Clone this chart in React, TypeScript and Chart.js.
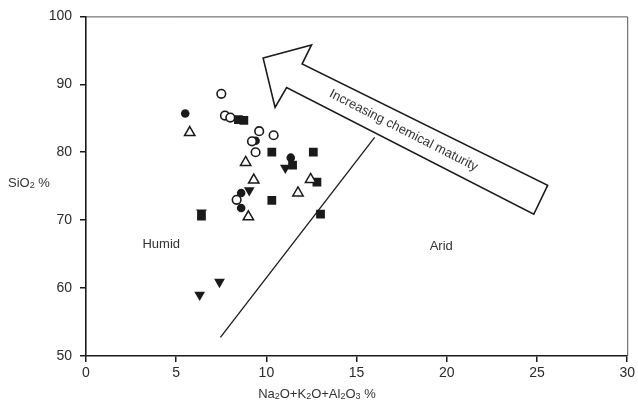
import { useEffect, useRef } from "react";
import { Chart, registerables } from "chart.js";

Chart.register(...registerables);

// Axis ticks
const xTicks = [0, 5, 10, 15, 20, 25, 30];
const yTicks = [50, 60, 70, 80, 90, 100];

// Sample groups (Na2O+K2O+Al2O3 %, SiO2 %)
const filledCircles = [
  { x: 5.5, y: 85.7 },
  { x: 9.4, y: 81.7 },
  { x: 11.35, y: 79.2 },
  { x: 8.6, y: 74.0 },
  { x: 8.6, y: 71.8 },
];
const openCircles = [
  { x: 7.5, y: 88.6 },
  { x: 7.7, y: 85.4 },
  { x: 8.0, y: 85.1 },
  { x: 9.6, y: 83.1 },
  { x: 9.2, y: 81.6 },
  { x: 9.4, y: 80.0 },
  { x: 10.4, y: 82.5 },
  { x: 8.35, y: 73.0 },
];
const filledSquares = [
  { x: 8.45, y: 84.8 },
  { x: 8.75, y: 84.7 },
  { x: 10.3, y: 80.0 },
  { x: 12.6, y: 80.0 },
  { x: 11.45, y: 78.1 },
  { x: 12.8, y: 75.6 },
  { x: 10.3, y: 72.9 },
  { x: 13.0, y: 70.9 },
  { x: 6.4, y: 70.6 },
];
const downTriangles = [
  { x: 11.05, y: 77.7 },
  { x: 9.05, y: 74.4 },
  { x: 7.4, y: 60.9 },
  { x: 6.3, y: 59.0 },
  { x: 6.4, y: 71.1 },
];
const openTriangles = [
  { x: 5.75, y: 82.9 },
  { x: 8.85, y: 78.5 },
  { x: 9.3, y: 75.9 },
  { x: 9.0, y: 70.5 },
  { x: 12.45, y: 76.0 },
  { x: 11.75, y: 74.0 },
];

// Humid / arid divide
const boundaryLine = [
  { x: 7.45, y: 52.75 },
  { x: 16.0, y: 82.2 },
];

// Outline of the maturity arrow, in data units
const arrowOutline = [
  { x: 9.82, y: 93.86 },
  { x: 12.5, y: 95.8 },
  { x: 11.98, y: 93.0 },
  { x: 25.59, y: 75.12 },
  { x: 24.82, y: 70.87 },
  { x: 11.12, y: 89.52 },
  { x: 10.48, y: 86.59 },
];
const arrowText = "Increasing chemical maturity";
const arrowTextAt = { x: 17.6, y: 83.2 };
const arrowTextAngle = 27;

const regionLabels = [
  { text: "Humid", x: 4.17, y: 66.5 },
  { text: "Arid", x: 19.69, y: 66.1 },
];

// Axis titles as [text, subscript?] runs
const xTitle: [string, boolean][] = [
  ["Na", false], ["2", true], ["O+K", false], ["2", true], ["O+Al", false],
  ["2", true], ["O", false], ["3", true], [" %", false],
];
const yTitle: [string, boolean][] = [["SiO", false], ["2", true], [" %", false]];

const FONT = "'Liberation Sans', Arial, sans-serif";
const INK = "#1a1a1a";

function drawRuns(
  ctx: CanvasRenderingContext2D,
  runs: [string, boolean][],
  x: number,
  y: number,
  align: "left" | "center"
) {
  const big = `13px ${FONT}`;
  const small = `9px ${FONT}`;
  let total = 0;
  for (const [t, sub] of runs) {
    ctx.font = sub ? small : big;
    total += ctx.measureText(t).width;
  }
  let cx = align === "center" ? x - total / 2 : x;
  ctx.textAlign = "left";
  ctx.textBaseline = "middle";
  for (const [t, sub] of runs) {
    ctx.font = sub ? small : big;
    ctx.fillText(t, cx, sub ? y + 3 : y);
    cx += ctx.measureText(t).width;
  }
}

const decorations = {
  id: "decorations",
  afterDraw(chart: any) {
    const { ctx, chartArea, scales } = chart;
    const xs = scales.x;
    const ys = scales.y;
    ctx.save();

    // thin frame on top and right
    ctx.strokeStyle = "#555";
    ctx.lineWidth = 1;
    ctx.beginPath();
    ctx.moveTo(chartArea.left, chartArea.top + 0.5);
    ctx.lineTo(chartArea.right + 0.5, chartArea.top + 0.5);
    ctx.lineTo(chartArea.right + 0.5, chartArea.bottom);
    ctx.stroke();

    // maturity arrow
    ctx.strokeStyle = INK;
    ctx.lineWidth = 1.6;
    ctx.lineJoin = "miter";
    ctx.beginPath();
    arrowOutline.forEach((p, i) => {
      const px = xs.getPixelForValue(p.x);
      const py = ys.getPixelForValue(p.y);
      if (i === 0) ctx.moveTo(px, py);
      else ctx.lineTo(px, py);
    });
    ctx.closePath();
    ctx.stroke();

    ctx.fillStyle = "#333";
    ctx.font = `13px ${FONT}`;
    ctx.textAlign = "center";
    ctx.textBaseline = "middle";
    ctx.save();
    ctx.translate(xs.getPixelForValue(arrowTextAt.x), ys.getPixelForValue(arrowTextAt.y));
    ctx.rotate((arrowTextAngle * Math.PI) / 180);
    ctx.fillText(arrowText, 0, 0);
    ctx.restore();

    for (const l of regionLabels) {
      ctx.fillText(l.text, xs.getPixelForValue(l.x), ys.getPixelForValue(l.y));
    }

    // axis titles
    drawRuns(ctx, xTitle, xs.getPixelForValue(12.8), 394, "center");
    drawRuns(ctx, yTitle, 8, 183, "left");
    ctx.restore();
  },
};

export default function App() {
  const ref = useRef<HTMLCanvasElement | null>(null);

  useEffect(() => {
    document.body.style.margin = "0";
    const canvas = ref.current;
    if (!canvas) return;

    const chart = new Chart(canvas, {
      type: "scatter",
      data: {
        datasets: [
          {
            type: "line",
            data: boundaryLine,
            borderColor: INK,
            borderWidth: 1.3,
            pointRadius: 0,
            fill: false,
          } as any,
          {
            data: openCircles,
            pointStyle: "circle",
            pointRadius: 4.3,
            backgroundColor: "#fff",
            borderColor: INK,
            borderWidth: 1.6,
          },
          {
            data: openTriangles,
            pointStyle: "triangle",
            pointRadius: 6,
            backgroundColor: "#fff",
            borderColor: INK,
            borderWidth: 1.5,
          },
          {
            data: filledSquares,
            pointStyle: "rect",
            pointRadius: 6.2,
            backgroundColor: INK,
            borderColor: INK,
            borderWidth: 0,
          },
          {
            data: downTriangles,
            pointStyle: "triangle",
            rotation: 180,
            pointRadius: 6.2,
            backgroundColor: INK,
            borderColor: INK,
            borderWidth: 0,
          },
          {
            data: filledCircles,
            pointStyle: "circle",
            pointRadius: 4.3,
            backgroundColor: INK,
            borderColor: INK,
            borderWidth: 0,
          },
        ],
      },
      options: {
        responsive: false,
        animation: false,
        events: [],
        layout: { padding: { top: 16, right: 8, left: 0, bottom: 0 } },
        plugins: {
          legend: { display: false },
          tooltip: { enabled: false },
        },
        scales: {
          x: {
            type: "linear",
            min: xTicks[0],
            max: xTicks[xTicks.length - 1],
            afterBuildTicks: (s: any) => {
              s.ticks = xTicks.map((v) => ({ value: v }));
            },
            afterFit: (s: any) => {
              s.height = 54;
            },
            grid: {
              drawOnChartArea: false,
              drawTicks: true,
              tickLength: 6,
              color: INK,
              lineWidth: 1.5,
            },
            border: { display: true, color: INK, width: 1.6 },
            ticks: {
              color: "#2a2a2a",
              font: { family: FONT, size: 14 },
              padding: 3,
              maxRotation: 0,
            },
          },
          y: {
            type: "linear",
            min: yTicks[0],
            max: yTicks[yTicks.length - 1],
            afterBuildTicks: (s: any) => {
              s.ticks = yTicks.map((v) => ({ value: v }));
            },
            afterFit: (s: any) => {
              s.width = 86;
            },
            grid: {
              drawOnChartArea: false,
              drawTicks: true,
              tickLength: 6,
              color: INK,
              lineWidth: 1.5,
            },
            border: { display: true, color: INK, width: 1.6 },
            ticks: {
              color: "#2a2a2a",
              font: { family: FONT, size: 14 },
              padding: 8,
            },
          },
        },
      },
      plugins: [decorations],
    });

    return () => chart.destroy();
  }, []);

  return (
    <div style={{ width: 638, height: 410 }}>
      <canvas ref={ref} width={638} height={410} />
    </div>
  );
}
